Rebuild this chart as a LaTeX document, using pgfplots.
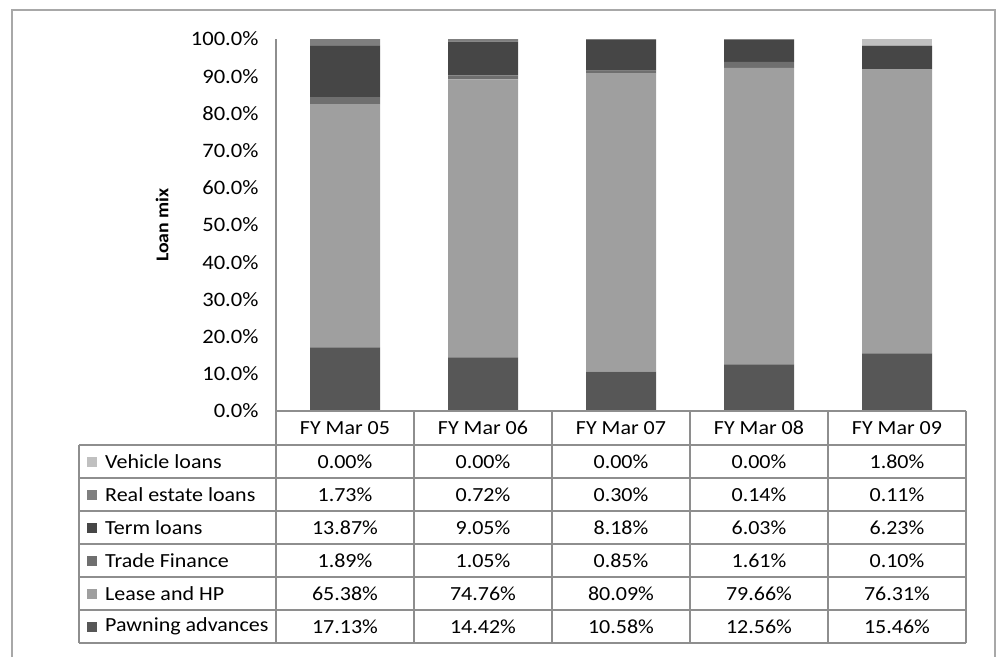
\documentclass[border=0pt]{standalone}
\usepackage{fontspec}
\setmainfont{Carlito}[FakeStretch=1.1]
\usepackage{pgfplots}
\usepackage{pgfplotstable}
\pgfplotsset{compat=1.18}

\definecolor{cPawn}{HTML}{575757}
\definecolor{cLease}{HTML}{9F9F9F}
\definecolor{cTrade}{HTML}{6F6F6F}
\definecolor{cTerm}{HTML}{464646}
\definecolor{cReal}{HTML}{7F7F7F}
\definecolor{cVehicle}{HTML}{C0C0C0}
\definecolor{gridgray}{HTML}{8E8E8E}
\definecolor{framegray}{HTML}{A8A8A8}

% Loan mix by year (share of portfolio, %)
\pgfplotstableread{
x pawn  lease trade term  real vehicle
0 17.13 65.38 1.89  13.87 1.73 0.00
1 14.42 74.76 1.05  9.05  0.72 0.00
2 10.58 80.09 0.85  8.18  0.30 0.00
3 12.56 79.66 1.61  6.03  0.14 0.00
4 15.46 76.31 0.10  6.23  0.11 1.80
}\loans

\newcommand\tablefont{\fontsize{20}{24}\selectfont}

\begin{document}
\begin{tikzpicture}
\useasboundingbox (0pt,0pt) rectangle (997pt,-657pt);

\begin{axis}[
  at={(276pt,-411pt)}, anchor=south west,
  scale only axis, width=690pt, height=372pt,
  xmin=-0.5, xmax=4.5, ymin=0, ymax=100,
  ybar stacked, bar width=70pt,
  axis y line*=left, axis x line=none,
  y axis line style={draw=gridgray, line width=1.4pt},
  major tick length=0pt,
  ytick={0,10,...,100},
  yticklabel={\pgfmathprintnumber[fixed,fixed zerofill,precision=1]{\tick}\%},
  /pgf/number format/assume math mode=true,
  yticklabel style={font=\fontsize{20.5}{24}\selectfont, anchor=east, xshift=-14pt},
  ylabel={Loan mix},
  ylabel style={font=\fontsize{18}{22}\selectfont\bfseries,
    at={(axis description cs:-0.165,0.5)}, anchor=center},
  clip=false,
]
\addplot[fill=cPawn, draw=none] table[x=x, y=pawn] {\loans};
\addplot[fill=cLease, draw=none] table[x=x, y=lease] {\loans};
\addplot[fill=cTrade, draw=none] table[x=x, y=trade] {\loans};
\addplot[fill=cTerm, draw=none] table[x=x, y=term] {\loans};
\addplot[fill=cReal, draw=none] table[x=x, y=real] {\loans};
\addplot[fill=cVehicle, draw=none] table[x=x, y=vehicle] {\loans};
\end{axis}

\begin{scope}[x=1pt, y=-1pt]
  % outer frame (open at the bottom)
  \draw[framegray, line width=1.5pt] (12,657) -- (12,10) -- (995,10) -- (995,657);

  % data table grid
  \begin{scope}[gridgray, line width=1.5pt]
    \draw (276,411) -- (966,411);
    \foreach \yy in {445,478,511,544,577,610,643}
      \draw (79,\yy) -- (966,\yy);
    \draw (79,445) -- (79,643);
    \foreach \xx in {276,414,552,690,828,966}
      \draw (\xx,411) -- (\xx,643);
  \end{scope}

  % column headers
  \foreach \lab [count=\i from 0] in {FY Mar 05,FY Mar 06,FY Mar 07,FY Mar 08,FY Mar 09}
    \node[font=\tablefont] at (345+138*\i,428) {\lab};

  % row labels with colour keys
  \foreach \lab/\col/\yy in {Vehicle loans/cVehicle/461.5,
                              Real estate loans/cReal/494.5,
                              Term loans/cTerm/527.5,
                              Trade Finance/cTrade/560.5,
                              Lease and HP/cLease/593.5,
                              Pawning advances/cPawn/626.5} {
    \fill[\col] (87,\yy-5) rectangle (97,\yy+5);
    \node[anchor=west, inner sep=0pt, font=\tablefont] at (105,\yy) {\lab};
  }

  % cell values, taken from the data table
  \foreach \c/\yy in {vehicle/461.5, real/494.5, term/527.5, trade/560.5, lease/593.5, pawn/626.5} {
    \foreach \i in {0,...,4} {
      \pgfplotstablegetelem{\i}{\c}\of\loans
      \node[font=\tablefont] at (345+138*\i,\yy) {\pgfplotsretval\%};
    }
  }
\end{scope}
\end{tikzpicture}
\end{document}
